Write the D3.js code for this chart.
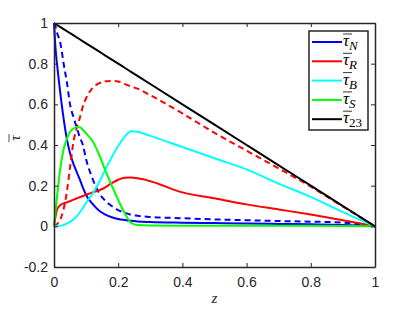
<!DOCTYPE html>
<html>
<head>
<meta charset="utf-8">
<script src="https://cdn.jsdelivr.net/npm/d3@7"></script>
<style>
  body { margin: 0; background: #fff; }
  text { font-family: "Liberation Sans", Arial, sans-serif; }
</style>
</head>
<body>
<div id="chart"></div>
<script>
// z grid shared by every curve
var zVals   = [0, 0.005, 0.01, 0.02, 0.03, 0.04, 0.05, 0.06, 0.07, 0.08, 0.09, 0.1, 0.12, 0.14, 0.16, 0.18, 0.2, 0.22, 0.24, 0.26, 0.3, 0.4, 0.5, 0.6, 0.7, 0.8, 0.9, 1];
var tauN    = [1, 0.87, 0.79, 0.65, 0.53, 0.43, 0.36, 0.31, 0.27, 0.232, 0.19, 0.154, 0.11, 0.078, 0.058, 0.045, 0.036, 0.031, 0.027, 0.024, 0.021, 0.018, 0.016, 0.014, 0.012, 0.01, 0.007, 0];
var tauNdash= [1, 0.98, 0.95, 0.9, 0.8, 0.71, 0.6, 0.54, 0.49, 0.44, 0.4, 0.33, 0.235, 0.165, 0.125, 0.1, 0.08, 0.067, 0.057, 0.052, 0.046, 0.04, 0.034, 0.03, 0.026, 0.023, 0.018, 0];
var tauR    = [0, 0.05, 0.085, 0.105, 0.113, 0.118, 0.124, 0.13, 0.137, 0.143, 0.149, 0.155, 0.167, 0.177, 0.192, 0.213, 0.229, 0.239, 0.24, 0.236, 0.222, 0.167, 0.138, 0.108, 0.083, 0.058, 0.03, 0];
var tauRdash= [0, 0.005, 0.012, 0.035, 0.085, 0.17, 0.29, 0.41, 0.48, 0.53, 0.59, 0.63, 0.68, 0.703, 0.713, 0.715, 0.712, 0.7, 0.688, 0.677, 0.645, 0.555, 0.46, 0.372, 0.285, 0.195, 0.097, 0];
var tauB    = [0, 0, 0.001, 0.003, 0.007, 0.013, 0.022, 0.033, 0.048, 0.068, 0.09, 0.115, 0.16, 0.215, 0.28, 0.34, 0.395, 0.44, 0.468, 0.465, 0.445, 0.39, 0.335, 0.28, 0.21, 0.145, 0.07, 0];
var tauS    = [0, 0.08, 0.155, 0.29, 0.38, 0.43, 0.465, 0.48, 0.487, 0.487, 0.475, 0.457, 0.42, 0.355, 0.275, 0.2, 0.13, 0.065, 0.018, 0.006, 0.004, 0.003, 0.003, 0.003, 0.003, 0.003, 0.002, 0];
var tau23   = [1, 0.995, 0.99, 0.98, 0.97, 0.96, 0.95, 0.94, 0.93, 0.92, 0.91, 0.9, 0.88, 0.86, 0.84, 0.82, 0.8, 0.78, 0.76, 0.74, 0.7, 0.6, 0.5, 0.4, 0.3, 0.2, 0.1, 0];

var xTicks = [0, 0.2, 0.4, 0.6, 0.8, 1];
var yTicks = [-0.2, 0, 0.2, 0.4, 0.6, 0.8, 1];
var legendSubs = ["N", "R", "B", "S", "23"];
var legendColors = ["#0000ff", "#ff0000", "#00ffff", "#00ff00", "#000000"];

(function() {
  var series = [
    {v: tauN, color: "#0000ff", dash: null},
    {v: tauNdash, color: "#0000ff", dash: "6,4"},
    {v: tauR, color: "#ff0000", dash: null},
    {v: tauRdash, color: "#ff0000", dash: "6,4"},
    {v: tauB, color: "#00ffff", dash: null},
    {v: tauS, color: "#00ff00", dash: null},
    {v: tau23, color: "#000000", dash: null}
  ];

  var w = 415, h = 312;
  var mLeft = 54, mRight = 375, mTop = 23, mBottom = 267;
  var axisColor = "#262626";

  var svg = d3.select("#chart").append("svg")
    .attr("width", w).attr("height", h);

  var x = d3.scaleLinear().domain([0, 1]).range([mLeft, mRight]);
  var y = d3.scaleLinear().domain([-0.2, 1]).range([mBottom, mTop]);

  // curves
  var line = d3.line()
    .x(function(d) { return x(d[0]); })
    .y(function(d) { return y(d[1]); })
    .curve(d3.curveMonotoneX);

  series.forEach(function(s) {
    var pts = zVals.map(function(z, i) { return [z, s.v[i]]; });
    svg.append("path")
      .attr("d", line(pts))
      .attr("fill", "none")
      .attr("stroke", s.color)
      .attr("stroke-width", 2)
      .attr("stroke-dasharray", s.dash);
  });

  // axes (box with inward ticks)
  var fmt = function(d) { return String(+d.toFixed(1)); };
  var xAxis = svg.append("g").attr("transform", "translate(0," + mBottom + ")")
    .call(d3.axisBottom(x).tickValues(xTicks).tickSizeInner(-4).tickSizeOuter(0).tickFormat(fmt));
  var xAxisTop = svg.append("g").attr("transform", "translate(0," + mTop + ")")
    .call(d3.axisTop(x).tickValues(xTicks).tickSizeInner(-4).tickSizeOuter(0).tickFormat(""));
  var yAxis = svg.append("g").attr("transform", "translate(" + mLeft + ",0)")
    .call(d3.axisLeft(y).tickValues(yTicks).tickSizeInner(-4).tickSizeOuter(0).tickFormat(fmt));
  var yAxisRight = svg.append("g").attr("transform", "translate(" + mRight + ",0)")
    .call(d3.axisRight(y).tickValues(yTicks).tickSizeInner(-4).tickSizeOuter(0).tickFormat(""));

  [xAxis, xAxisTop, yAxis, yAxisRight].forEach(function(g) {
    g.select(".domain").attr("stroke", axisColor).attr("stroke-width", 1.5);
    g.selectAll(".tick line").attr("stroke", axisColor).attr("stroke-width", 1);
    g.selectAll("text").attr("fill", axisColor).style("font-size", "14px")
      .style("font-family", "'Liberation Sans', Arial, sans-serif");
  });
  xAxis.selectAll("text").attr("dy", null).attr("y", 20);
  yAxis.selectAll("text").attr("x", -6);

  // axis labels
  svg.append("text")
    .attr("x", (mLeft + mRight) / 2).attr("y", 303)
    .attr("text-anchor", "middle")
    .style("font-family", "'Liberation Serif', serif")
    .style("font-style", "italic").style("font-size", "15px")
    .attr("fill", axisColor)
    .text("z");

  var yl = svg.append("g").attr("transform", "translate(20,138) rotate(-90)");
  yl.append("text")
    .attr("x", 0).attr("y", 0).attr("text-anchor", "middle")
    .style("font-family", "'Liberation Serif', serif")
    .style("font-style", "italic").style("font-size", "15px")
    .attr("fill", axisColor).text("τ");
  yl.append("line").attr("x1", -4).attr("x2", 4).attr("y1", -11).attr("y2", -11)
    .attr("stroke", axisColor).attr("stroke-width", 0.8);

  // legend
  var lg = svg.append("g");
  lg.append("rect")
    .attr("x", 309).attr("y", 31).attr("width", 59).attr("height", 99)
    .attr("fill", "#fff").attr("stroke", axisColor).attr("stroke-width", 1.5);

  legendSubs.forEach(function(sub, i) {
    var ly = 42 + i * 19.3;
    lg.append("line")
      .attr("x1", 312).attr("x2", 342).attr("y1", ly).attr("y2", ly)
      .attr("stroke", legendColors[i]).attr("stroke-width", 2);
    var t = lg.append("text").attr("x", 343).attr("y", ly + 4)
      .style("font-family", "'Liberation Serif', serif")
      .style("font-size", "17px").attr("fill", "#000");
    t.append("tspan").style("font-style", "italic").text("τ");
    t.append("tspan").attr("dy", 4).style("font-size", "13px")
      .style("font-style", sub === "23" ? "normal" : "italic").text(sub);
    lg.append("line")
      .attr("x1", 343).attr("x2", 352).attr("y1", ly - 8).attr("y2", ly - 8)
      .attr("stroke", "#000").attr("stroke-width", 0.8);
  });
})();
</script>
</body>
</html>
